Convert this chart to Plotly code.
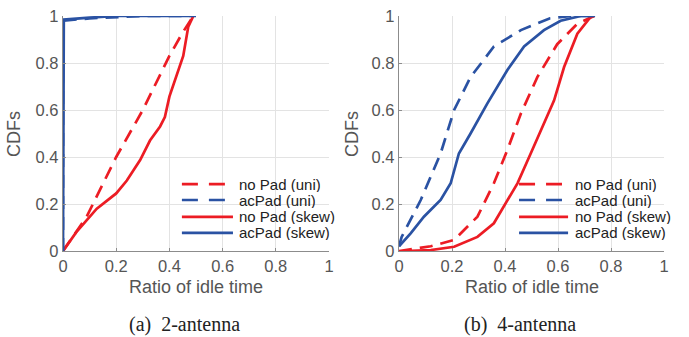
import plotly.graph_objects as go

# ---------------- data ----------------
# (a) 2-antenna
a_nopad_uni_x = [0, 0.05, 0.089, 0.2, 0.3, 0.4, 0.45, 0.49]
a_nopad_uni_y = [0, 0.08, 0.146, 0.40, 0.60, 0.83, 0.93, 1.0]
a_acpad_uni_x = [0, 0.0, 0.1, 0.3, 0.5]
a_acpad_uni_y = [0, 0.98, 0.99, 1.0, 1.0]
a_nopad_skew_x = [0, 0.05, 0.127, 0.2, 0.24, 0.29, 0.327, 0.365, 0.383, 0.40, 0.452, 0.471, 0.49]
a_nopad_skew_y = [0, 0.08, 0.18, 0.245, 0.30, 0.387, 0.47, 0.53, 0.57, 0.657, 0.83, 0.955, 1.0]
a_acpad_skew_x = [0, 0.003, 0.1, 0.2, 0.48]
a_acpad_skew_y = [0, 0.985, 0.993, 1.0, 1.0]

# (b) 4-antenna
b_nopad_uni_x = [0.0, 0.12, 0.208, 0.296, 0.358, 0.409, 0.46, 0.522, 0.597, 0.673, 0.736]
b_nopad_uni_y = [0, 0.02, 0.047, 0.146, 0.288, 0.43, 0.585, 0.74, 0.88, 0.967, 1.0]
b_acpad_uni_x = [0, 0.01, 0.082, 0.157, 0.208, 0.27, 0.358, 0.46, 0.57, 0.65, 0.74]
b_acpad_uni_y = [0.02, 0.06, 0.217, 0.415, 0.6, 0.74, 0.87, 0.94, 0.99, 1.0, 1.0]
b_nopad_skew_x = [0.02, 0.12, 0.208, 0.296, 0.358, 0.396, 0.447, 0.497, 0.547, 0.585, 0.623, 0.673, 0.723, 0.736]
b_nopad_skew_y = [0, 0.004, 0.018, 0.06, 0.118, 0.188, 0.288, 0.415, 0.542, 0.64, 0.783, 0.925, 0.996, 1.0]
b_acpad_skew_x = [0, 0.044, 0.094, 0.157, 0.195, 0.226, 0.27, 0.333, 0.409, 0.472, 0.547, 0.61, 0.686, 0.74]
b_acpad_skew_y = [0.02, 0.075, 0.146, 0.217, 0.288, 0.415, 0.5, 0.627, 0.77, 0.87, 0.94, 0.98, 1.0, 1.0]

series_names = ["no Pad (uni)", "acPad (uni)", "no Pad (skew)", "acPad (skew)"]
tick_vals = [0, 0.2, 0.4, 0.6, 0.8, 1]
tick_text = ["0", "0.2", "0.4", "0.6", "0.8", "1"]
x_title = "Ratio of idle time"
y_title = "CDFs"
captions = ["(a)\u20022-antenna", "(b)\u20024-antenna"]

# ---------------- style ----------------
RED = "#ec1c24"
BLUE = "#2a52a3"
LW = 2.7
DASH = "13px,8px"
TICK_COLOR = "#555555"
SANS = "Liberation Sans, Arial"
W, H = 689, 337
PX = [(63, 329), (399, 664)]      # plot-area left/right pixels for each panel
PY = (16, 251)                    # plot-area top/bottom pixels
CAP_X = [184, 519.5]              # caption centres (pixels)

styles = [(RED, DASH), (BLUE, DASH), (RED, "solid"), (BLUE, "solid")]

fig = go.Figure()

panels = [
    ("x", "y", [(a_nopad_uni_x, a_nopad_uni_y), (a_acpad_uni_x, a_acpad_uni_y),
                (a_nopad_skew_x, a_nopad_skew_y), (a_acpad_skew_x, a_acpad_skew_y)]),
    ("x2", "y2", [(b_nopad_uni_x, b_nopad_uni_y), (b_acpad_uni_x, b_acpad_uni_y),
                  (b_nopad_skew_x, b_nopad_skew_y), (b_acpad_skew_x, b_acpad_skew_y)]),
]

draw_order = [0, 2, 1, 3]
for xa, ya, series in panels:
    for i in draw_order:
        xs, ys = series[i]
        col, dash = styles[i]
        fig.add_trace(go.Scatter(
            x=xs, y=ys, mode="lines", name=series_names[i], showlegend=False,
            line=dict(color=col, width=LW, dash=dash),
            xaxis=xa, yaxis=ya,
        ))

# manual legends (in data coordinates of each panel)
legend_cfg = [
    ("x", "y", 0.447, 0.613, 0.639, 0.658),
    ("x2", "y2", 0.453, 0.615, 0.638, 0.66),
]
legend_rows = [0.285, 0.217, 0.145, 0.077]
for xa, ya, x0, x1d, x1s, xt in legend_cfg:
    for i, yy in enumerate(legend_rows):
        col, dash = styles[i]
        x1 = x1d if dash != "solid" else x1s
        fig.add_shape(type="line", xref=xa, yref=ya, x0=x0, x1=x1, y0=yy, y1=yy,
                      line=dict(color=col, width=LW, dash="16px,11px" if dash != "solid" else "solid"))
        fig.add_annotation(xref=xa, yref=ya, x=xt, y=yy, text=series_names[i],
                           showarrow=False, xanchor="left", yanchor="middle",
                           borderpad=0, height=15,
                           font=dict(family=SANS, size=15, color="#222222"))

# axis titles and captions
for (l, r), ylab_x in zip(PX, [14, 352]):
    cx = (l + r) / 2 / W
    fig.add_annotation(xref="paper", yref="paper", x=cx, y=1 - 287 / H, text=x_title,
                       showarrow=False, xanchor="center", yanchor="middle",
                       font=dict(family=SANS, size=18, color=TICK_COLOR))
    fig.add_annotation(xref="paper", yref="paper", x=ylab_x / W, y=1 - 134 / H, text=y_title,
                       showarrow=False, xanchor="center", yanchor="middle", textangle=-90,
                       font=dict(family=SANS, size=18, color=TICK_COLOR))
for cxp, cap in zip(CAP_X, captions):
    fig.add_annotation(xref="paper", yref="paper", x=cxp / W, y=1 - 324 / H, text=cap,
                       showarrow=False, xanchor="center", yanchor="middle",
                       font=dict(family="Liberation Serif, Times New Roman", size=20, color="#222222"))

axis_common = dict(
    range=[0, 1], tickvals=tick_vals, ticktext=tick_text,
    showgrid=True, gridcolor="#e3e3e3", gridwidth=1,
    zeroline=False, showline=True, linecolor="#8c8c8c", linewidth=1.3,
    ticks="inside", ticklen=3, tickcolor="#8c8c8c",
    tickfont=dict(family=SANS, size=16.5, color=TICK_COLOR),
    mirror=False, fixedrange=True, automargin=False,
)

ydom = [1 - PY[1] / H, 1 - PY[0] / H]
fig.update_layout(
    width=W, height=H,
    margin=dict(l=0, r=0, t=0, b=0, autoexpand=False),
    paper_bgcolor="white", plot_bgcolor="white",
    showlegend=False,
    xaxis=dict(domain=[PX[0][0] / W, PX[0][1] / W], anchor="y", **axis_common),
    yaxis=dict(domain=ydom, anchor="x", **axis_common),
    xaxis2=dict(domain=[PX[1][0] / W, PX[1][1] / W], anchor="y2", **axis_common),
    yaxis2=dict(domain=ydom, anchor="x2", **axis_common),
)

fig.write_html("out.html", config={"displayModeBar": False},
               post_script="document.body.style.margin='0';document.body.style.overflow='hidden';")
